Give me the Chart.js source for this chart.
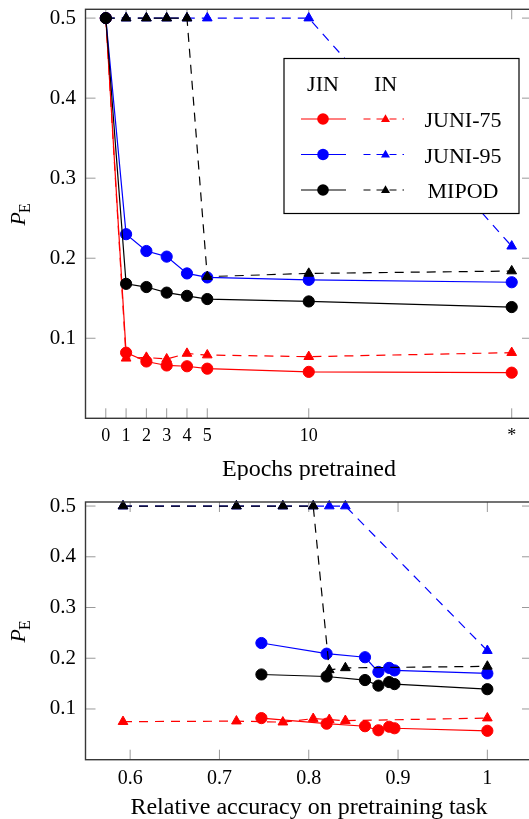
<!DOCTYPE html>
<html>
<head>
<meta charset="utf-8">
<script src="https://cdn.jsdelivr.net/npm/chart.js@4.4.0/dist/chart.umd.min.js"></script>
<style>
html, body { margin: 0; padding: 0; background: #fff; overflow: hidden; }
#wrap { position: relative; width: 529px; height: 819px; overflow: hidden; background: #fff; }
canvas { position: absolute; left: 0; }
#topChart { top: 0; }
#bottomChart { top: 480px; }
</style>
</head>
<body>
<div id="wrap">
  <canvas id="topChart" width="540" height="480"></canvas>
  <canvas id="bottomChart" width="540" height="339"></canvas>
</div>
<script>
const FONT = "'Liberation Serif', 'Times New Roman', serif";

// x positions of the epochs (last one is the fully trained "*")
const epochs = [0, 1, 2, 3, 4, 5, 10, 20];
const epochLabels = ['0', '1', '2', '3', '4', '5', '10', '*'];
const accTicks = [0.6, 0.7, 0.8, 0.9, 1];
const accTickLabels = ['0.6', '0.7', '0.8', '0.9', '1'];
const peTicks = [0.1, 0.2, 0.3, 0.4, 0.5];

// P_E per epoch (0, 1, 2, 3, 4, 5, 10, *)
const juni75Jin = [0.5, 0.082, 0.071, 0.066, 0.065, 0.062, 0.058, 0.057];
const juni75In  = [0.5, 0.075, 0.076, 0.074, 0.081, 0.079, 0.077, 0.082];
const juni95Jin = [0.5, 0.230, 0.209, 0.202, 0.181, 0.176, 0.173, 0.170];
const juni95In  = [0.5, 0.5, 0.5, 0.5, 0.5, 0.5, 0.5, 0.215];
const mipodJin  = [0.5, 0.168, 0.164, 0.157, 0.153, 0.149, 0.146, 0.139];
const mipodIn   = [0.5, 0.5, 0.5, 0.5, 0.5, 0.177, 0.181, 0.184];

// relative accuracy on the pretraining task, epochs 1, 2, 3, 4, 5, 10, *
const jinAcc = [0.747, 0.820, 0.863, 0.890, 0.896, 0.878, 1.0];
const inAcc  = [0.592, 0.719, 0.771, 0.805, 0.823, 0.841, 1.0];

const names  = ['JUNI-75', 'JUNI-95', 'MIPOD'];
const colors = ['#ff0000', '#0000ff', '#000000'];
const jinSets = [juni75Jin, juni95Jin, mipodJin];
const inSets  = [juni75In, juni95In, mipodIn];

const DASH = [9, 7];

function lineSet(points, color, tri, order) {
  return {
    data: points,
    borderColor: color,
    backgroundColor: color,
    borderWidth: 1.2,
    borderDash: tri ? DASH : [],
    pointStyle: tri ? 'triangle' : 'circle',
    pointRadius: tri ? 5.6 : 5.6,
    pointBorderWidth: 1,
    pointBorderColor: color,
    pointBackgroundColor: color,
    pointHoverRadius: 5.6,
    tension: 0,
    clip: false,
    order: order
  };
}

function topDatasets() {
  const out = [];
  for (let i = 0; i < 3; i++) {
    const jin = epochs.map((e, k) => ({ x: e, y: jinSets[i][k] }));
    const inn = epochs.map((e, k) => ({ x: e, y: inSets[i][k] }));
    out.push(lineSet(jin, colors[i], false, 6 - 2 * i));
    out.push(lineSet(inn, colors[i], true, 5 - 2 * i));
  }
  return out;
}

function bottomDatasets() {
  const out = [];
  for (let i = 0; i < 3; i++) {
    const jin = jinAcc.map((a, k) => ({ x: a, y: jinSets[i][k + 1] })).sort((p, q) => p.x - q.x);
    const inn = inAcc.map((a, k) => ({ x: a, y: inSets[i][k + 1] })).sort((p, q) => p.x - q.x);
    out.push(lineSet(jin, colors[i], false, 6 - 2 * i));
    out.push(lineSet(inn, colors[i], true, 5 - 2 * i));
  }
  return out;
}

function drawTriangle(ctx, x, y, r) {
  ctx.beginPath();
  for (let k = 0; k < 3; k++) {
    const a = k * 2 * Math.PI / 3;
    const px = x + Math.sin(a) * r;
    const py = y - Math.cos(a) * r;
    if (k === 0) ctx.moveTo(px, py); else ctx.lineTo(px, py);
  }
  ctx.closePath();
  ctx.fill();
}

function drawLegend(ctx) {
  const bx = 284, by = 58.5, bw = 235, bh = 155;
  ctx.save();
  ctx.fillStyle = '#fff';
  ctx.fillRect(bx, by, bw, bh);
  ctx.strokeStyle = '#000';
  ctx.lineWidth = 1.2;
  ctx.strokeRect(bx, by, bw, bh);

  ctx.fillStyle = '#000';
  ctx.font = '22px ' + FONT;
  ctx.textAlign = 'center';
  ctx.textBaseline = 'alphabetic';
  ctx.fillText('JIN', 323, 90.5);
  ctx.fillText('IN', 385.5, 90.5);

  for (let i = 0; i < 3; i++) {
    const y = 119 + i * 35.5;
    const c = colors[i];
    ctx.strokeStyle = c;
    ctx.fillStyle = c;
    ctx.lineWidth = 1.2;
    ctx.setLineDash([]);
    ctx.beginPath();
    ctx.moveTo(301, y);
    ctx.lineTo(346, y);
    ctx.stroke();
    ctx.beginPath();
    ctx.arc(323, y, 5.8, 0, Math.PI * 2);
    ctx.fill();

    ctx.setLineDash([7, 6]);
    ctx.beginPath();
    ctx.moveTo(363.5, y);
    ctx.lineTo(404, y);
    ctx.stroke();
    ctx.setLineDash([]);
    drawTriangle(ctx, 385.5, y + 0.5, 5.2);

    ctx.fillStyle = '#000';
    ctx.font = '22px ' + FONT;
    ctx.textAlign = 'center';
    ctx.fillText(names[i], 463, y + 8.3);
  }
  ctx.restore();
}

const axisDecor = {
  id: 'axisDecor',
  beforeDatasetsDraw(chart, args, opts) {
    const { ctx, chartArea: a, scales } = chart;
    const len = 10;
    ctx.save();
    ctx.strokeStyle = '#9a9a9a';
    ctx.lineWidth = 1;
    opts.xTicks.forEach(v => {
      const px = scales.x.getPixelForValue(v);
      ctx.beginPath();
      ctx.moveTo(px, a.bottom); ctx.lineTo(px, a.bottom - len);
      ctx.moveTo(px, a.top); ctx.lineTo(px, a.top + len);
      ctx.stroke();
    });
    peTicks.forEach(v => {
      const py = scales.y.getPixelForValue(v);
      ctx.beginPath();
      ctx.moveTo(a.left, py); ctx.lineTo(a.left + len, py);
      ctx.moveTo(a.right, py); ctx.lineTo(a.right - len, py);
      ctx.stroke();
    });
    ctx.restore();
  },
  afterDraw(chart, args, opts) {
    const { ctx, chartArea: a } = chart;
    ctx.save();
    ctx.strokeStyle = '#383838';
    ctx.lineWidth = 1.4;
    ctx.strokeRect(a.left, a.top, a.right - a.left, a.bottom - a.top);

    // x axis title
    ctx.fillStyle = '#000';
    ctx.font = '24px ' + FONT;
    ctx.textAlign = 'center';
    ctx.textBaseline = 'alphabetic';
    ctx.fillText(opts.xTitle, 309, opts.xTitleY);

    // y axis title: P_E, rotated
    const cy = (a.top + a.bottom) / 2;
    ctx.translate(25, cy);
    ctx.rotate(-Math.PI / 2);
    ctx.textAlign = 'left';
    ctx.font = 'italic 22px ' + FONT;
    const wP = ctx.measureText('P').width;
    ctx.font = '16px ' + FONT;
    const wE = ctx.measureText('E').width;
    const start = -(wP + wE) / 2;
    ctx.font = 'italic 22px ' + FONT;
    ctx.fillText('P', start, 0);
    ctx.font = '16px ' + FONT;
    ctx.fillText('E', start + wP - 1, 4.5);
    ctx.setTransform(1, 0, 0, 1, 0, 0);

    if (opts.legend) drawLegend(ctx);
    ctx.restore();
  }
};

function noPad(sc) {
  sc.paddingTop = 0; sc.paddingBottom = 0; sc.paddingLeft = 0; sc.paddingRight = 0;
}

function makeChart(canvasId, datasets, cfg) {
  return new Chart(document.getElementById(canvasId), {
    type: 'line',
    data: { datasets: datasets },
    plugins: [axisDecor],
    options: {
      responsive: false,
      animation: false,
      devicePixelRatio: 1,
      events: [],
      layout: { padding: { left: 0, top: cfg.top, right: 8, bottom: 0 } },
      plugins: {
        legend: { display: false },
        tooltip: { enabled: false },
        axisDecor: { xTicks: cfg.xTicks, xTitle: cfg.xTitle, xTitleY: cfg.xTitleY, legend: cfg.legend }
      },
      scales: {
        x: {
          type: 'linear',
          min: cfg.xMin, max: cfg.xMax,
          grid: { display: false, drawTicks: false },
          border: { display: false },
          afterBuildTicks: sc => { sc.ticks = cfg.xTicks.map(v => ({ value: v })); },
          afterFit: sc => { sc.height = cfg.xAxisH; noPad(sc); },
          ticks: {
            autoSkip: false, maxRotation: 0, minRotation: 0,
            padding: cfg.xPad,
            color: '#000',
            font: { family: FONT, size: cfg.xFont },
            callback: (v, i) => cfg.xLabels[i]
          }
        },
        y: {
          type: 'linear',
          min: 0, max: cfg.yMax,
          grid: { display: false, drawTicks: false },
          border: { display: false },
          afterBuildTicks: sc => { sc.ticks = peTicks.map(v => ({ value: v })); },
          afterFit: sc => { sc.width = 85.5; noPad(sc); },
          ticks: {
            padding: 9.5,
            color: '#000',
            font: { family: FONT, size: 21 },
            callback: v => v.toFixed(1)
          }
        }
      }
    }
  });
}

makeChart('topChart', topDatasets(), {
  top: 9.3, xAxisH: 61.7, xMin: -1, xMax: 21, yMax: 0.511,
  xTicks: epochs, xLabels: epochLabels, xFont: 18, xPad: 7,
  xTitle: 'Epochs pretrained', xTitleY: 476, legend: true
});

makeChart('bottomChart', bottomDatasets(), {
  top: 22, xAxisH: 59.3, xMin: 0.55, xMax: 1.05, yMax: 0.508,
  xTicks: accTicks, xLabels: accTickLabels, xFont: 20, xPad: 7,
  xTitle: 'Relative accuracy on pretraining task', xTitleY: 334, legend: false
});
</script>
</body>
</html>
